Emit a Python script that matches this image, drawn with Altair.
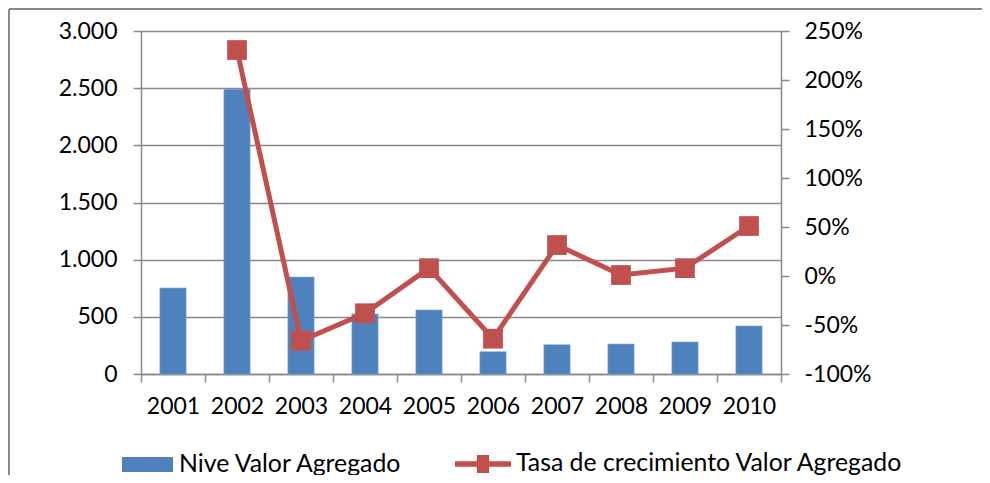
import altair as alt
import pandas as pd

years = ["2001", "2002", "2003", "2004", "2005", "2006", "2007", "2008", "2009", "2010"]
nivel = [752, 2490, 848, 525, 560, 195, 256, 262, 280, 420]
tasa = [None, 2.306, -0.66, -0.38, 0.08, -0.64, 0.316, 0.01, 0.08, 0.51]

left_ticks = [0, 500, 1000, 1500, 2000, 2500, 3000]
right_ticks = [-1.0, -0.5, 0.0, 0.5, 1.0, 1.5, 2.0, 2.5]

s_bar = "Nive Valor Agregado"
s_line = "Tasa de crecimiento Valor Agregado"

BLUE = "#4F81BD"
RED = "#C0504D"
GRAY = "#898989"
FONT = "Lato"
TICK_FS = 23
LEG_FS = 24.8

df = pd.DataFrame({"year": years, "nivel": nivel, "tasa": tasa,
                   "s1": s_bar, "s2": s_line})

xenc = alt.X("year:N", title=None,
             scale=alt.Scale(paddingInner=0, paddingOuter=0),
             axis=alt.Axis(labelAngle=0, tickBand="extent", tickSize=8,
                           domainColor=GRAY, tickColor=GRAY, labelFont=FONT,
                           labelFontSize=TICK_FS, labelColor="black", labelPadding=13,
                           grid=False, domainWidth=1.5, tickWidth=1.5))

bars = alt.Chart(df).mark_bar(stroke="#7fa3d3", strokeWidth=0.6,
                              width=alt.RelativeBandSize(0.41)).encode(
    x=xenc,
    y=alt.Y("nivel:Q", title=None,
            scale=alt.Scale(domain=[0, 3000], nice=False),
            axis=alt.Axis(values=left_ticks, grid=True, gridColor=GRAY, gridWidth=1.3,
                          domainColor=GRAY, tickColor=GRAY, tickSize=8,
                          domainWidth=1.5, tickWidth=1.5,
                          labelFont=FONT, labelFontSize=TICK_FS, labelColor="black",
                          labelPadding=16,
                          labelExpr="replace(format(datum.value, ','), ',', '.')")),
    color=alt.Color("s1:N", scale=alt.Scale(domain=[s_bar], range=[BLUE]),
                    legend=alt.Legend(orient="none", legendX=-19, legendY=408, title=None,
                                      symbolType="M-1,-0.29H1V0.29H-1Z", symbolSize=2601,
                                      symbolStrokeWidth=0, labelFont=FONT, labelFontSize=LEG_FS,
                                      labelColor="black", labelOffset=6, padding=0,
                                      labelLimit=600)),
)

yright = alt.Y("tasa:Q", title=None,
               scale=alt.Scale(domain=[-1.0, 2.5], nice=False),
               axis=alt.Axis(orient="right", values=right_ticks, grid=False,
                             domainColor=GRAY, tickColor=GRAY, tickSize=8,
                             domainWidth=1.5, tickWidth=1.5,
                             labelFont=FONT, labelFontSize=TICK_FS, labelColor="black",
                             labelPadding=15,
                             labelExpr="round(datum.value * 100) + '%'"))

line_base = alt.Chart(df).transform_filter("isValid(datum.tasa)")

line = line_base.mark_line(color=RED, strokeWidth=5).encode(x=xenc, y=yright)

pts = line_base.mark_square(size=390, opacity=1, filled=True).encode(
    x=xenc, y=yright,
    fill=alt.Fill("s2:N", scale=alt.Scale(domain=[s_line], range=[RED]),
                  legend=alt.Legend(orient="none", legendX=314, legendY=405, title=None,
                                    symbolType="M-1,-0.1H-0.22V-0.32H0.22V-0.1H1V0.1H0.22V0.32H-0.22V0.1H-1Z",
                                    symbolSize=3136, symbolStrokeWidth=0,
                                    labelFont=FONT, labelFontSize=LEG_FS, labelColor="black",
                                    labelOffset=5, padding=0, labelLimit=600)),
)

right_layer = alt.layer(line, pts)

frame_data = alt.Data(values=[{"a": 1}])
top_border = alt.Chart(frame_data).mark_rule(color=GRAY, strokeWidth=2).encode(
    x=alt.value(-132), x2=alt.value(841), y=alt.value(-22))
left_border = alt.Chart(frame_data).mark_rule(color=GRAY, strokeWidth=2).encode(
    x=alt.value(-132), y=alt.value(-22), y2=alt.value(444))

chart = alt.layer(bars, right_layer, top_border, left_border).resolve_scale(
    y="independent"
).properties(
    width=640, height=343,
    padding={"left": 133, "top": 23, "right": 201, "bottom": 101},
    autosize=alt.AutoSizeParams(type="none"),
    background="white",
).configure_view(stroke=None)

chart.save("out.html", embed_options={"renderer": "svg", "actions": False})
